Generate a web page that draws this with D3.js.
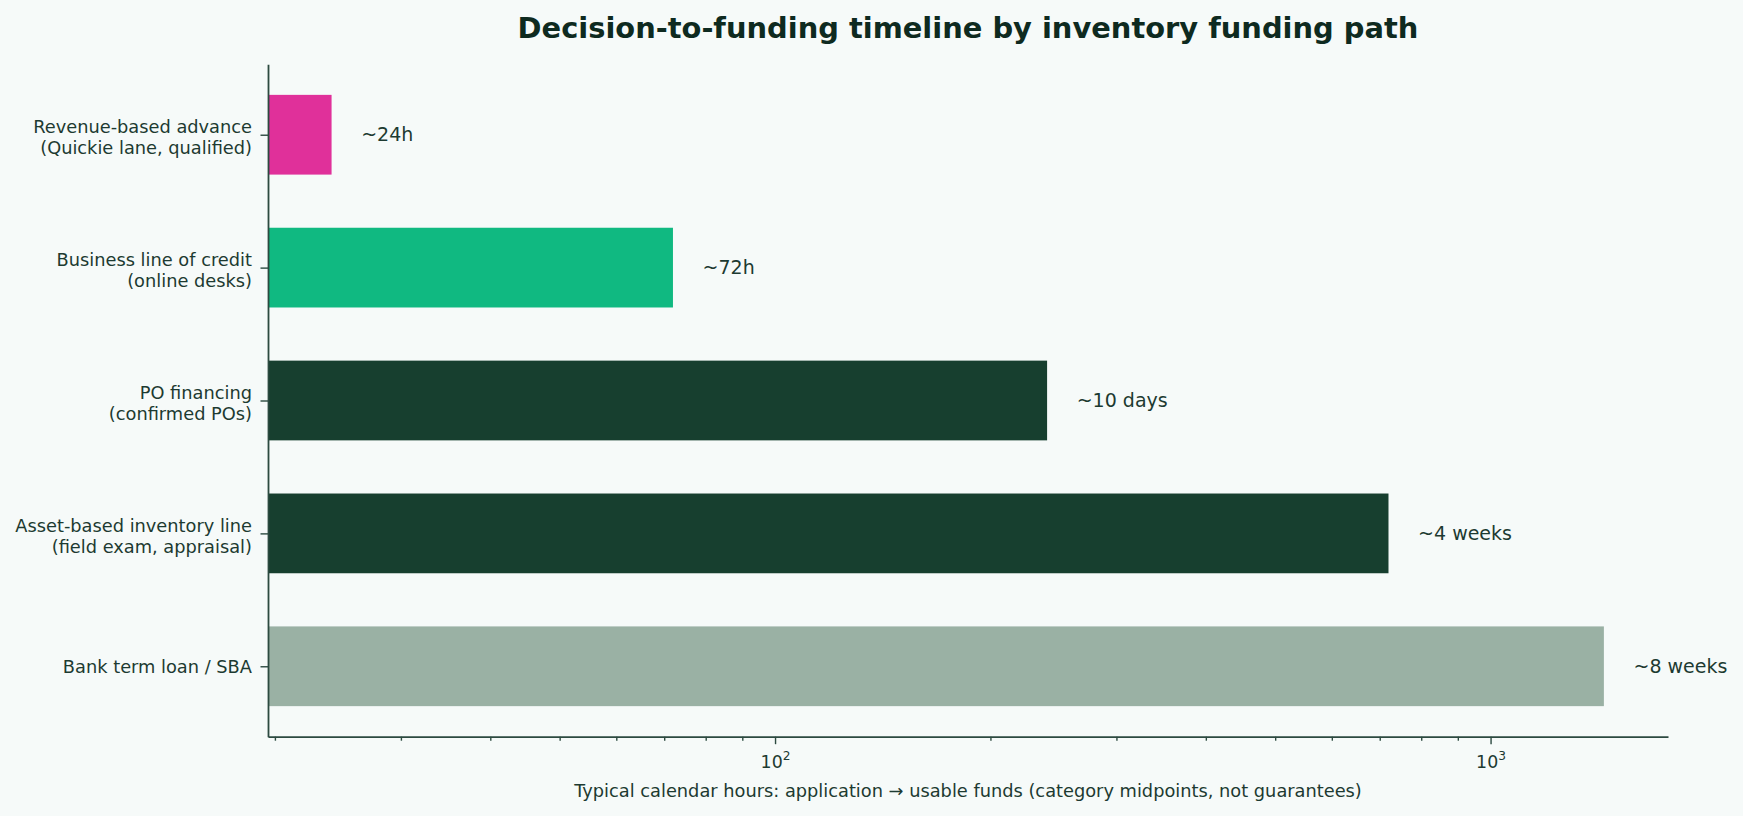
<!DOCTYPE html>
<html>
<head>
<meta charset="utf-8">
<script src="https://cdn.jsdelivr.net/npm/d3@7"></script>
<style>
  body { margin: 0; background: #f6faf9; }
  text { font-family: "DejaVu Sans", sans-serif; }
</style>
</head>
<body>
<script>
// Data
var categories = [
  "Revenue-based advance\n(Quickie lane, qualified)",
  "Business line of credit\n(online desks)",
  "PO financing\n(confirmed POs)",
  "Asset-based inventory line\n(field exam, appraisal)",
  "Bank term loan / SBA"
];
var hours = [24, 72, 240, 720, 1440];
var valueLabels = ["~24h", "~72h", "~10 days", "~4 weeks", "~8 weeks"];
var barColors = ["#e0309a", "#10b981", "#173f2f", "#173f2f", "#9ab1a4"];
var majorTicks = [100, 1000];
var majorTickLabels = ["2", "3"];
var minorTicks = [20, 30, 40, 50, 60, 70, 80, 90, 200, 300, 400, 500, 600, 700, 800, 900];

var width = 1743,
  height = 816;
var margin = {
  top: 64.3,
  bottom: 79.3,
  left: 268,
  right: 75
};

var textColor = "#1d3a31";
var spineColor = "#2c4a40";

var svg = d3.select('body')
  .append('svg')
  .attr('width', width)
  .attr('height', height)
  .style('background', '#f6faf9');

// Scales
var xScale = d3.scaleLog()
  .domain([19.56, 1770])
  .range([margin.left, width - margin.right]);

var yScale = d3.scaleLinear()
  .domain([-0.53, categories.length - 1 + 0.53])
  .range([margin.top, height - margin.bottom]);

var barHalf = 0.3;

// Bars
svg.selectAll('.bar')
  .data(hours)
  .enter()
  .append('rect')
  .attr('class', 'bar')
  .attr('x', xScale.range()[0])
  .attr('y', function(d, i) { return yScale(i - barHalf); })
  .attr('width', function(d) { return xScale(d) - xScale.range()[0]; })
  .attr('height', function(d, i) { return yScale(i + barHalf) - yScale(i - barHalf); })
  .attr('fill', function(d, i) { return barColors[i]; });

// Value labels
svg.selectAll('.vlabel')
  .data(hours)
  .enter()
  .append('text')
  .attr('class', 'vlabel')
  .attr('x', function(d) { return xScale(d * 1.1); })
  .attr('y', function(d, i) { return yScale(i) + 6.6; })
  .style('font-size', '19px')
  .style('fill', textColor)
  .text(function(d, i) { return valueLabels[i]; });

// Minor x ticks
svg.append('g')
  .attr('class', 'minor')
  .attr('transform', `translate(0,${height - margin.bottom})`)
  .call(d3.axisBottom(xScale).tickValues(minorTicks).tickFormat('').tickSize(4).tickSizeOuter(0))
  .call(function(g) { g.select('.domain').remove(); });

// Major x axis
var xAxis = svg.append('g')
  .attr('transform', `translate(0,${height - margin.bottom})`)
  .call(d3.axisBottom(xScale).tickValues(majorTicks).tickFormat('').tickSize(7.5).tickSizeOuter(0));

xAxis.selectAll('.tick text').remove();
xAxis.selectAll('.tick').each(function(d, i) {
  var t = d3.select(this).append('text')
    .attr('y', 31)
    .attr('text-anchor', 'middle')
    .style('font-size', '17.4px')
    .style('fill', textColor);
  t.append('tspan').text('10');
  t.append('tspan').attr('dy', -7.6).style('font-size', '12.2px').text(majorTickLabels[i]);
});

// Left axis
var yAxis = svg.append('g')
  .attr('transform', `translate(${margin.left},0)`)
  .call(d3.axisLeft(yScale).tickValues(d3.range(categories.length)).tickFormat('').tickSize(7.5).tickSizeOuter(0));

yAxis.selectAll('.tick text').remove();
yAxis.selectAll('.tick').each(function(d, i) {
  var lines = categories[i].split('\n');
  var lineH = 20.5;
  var first = 6.5 - (lines.length - 1) / 2 * lineH + (lines.length - 1) * 2;
  var t = d3.select(this).append('text')
    .attr('x', -16)
    .attr('text-anchor', 'end')
    .style('font-size', '17.8px')
    .style('fill', textColor);
  lines.forEach(function(l, j) {
    t.append('tspan')
      .attr('x', -16)
      .attr('y', first + j * lineH)
      .text(l);
  });
});

// Spine styling
svg.selectAll('.domain').attr('stroke', spineColor).attr('stroke-width', 1.8);
svg.selectAll('.tick line').attr('stroke', spineColor).attr('stroke-width', 1.4);

// Title
svg.append('text')
  .attr('x', (margin.left + width - margin.right) / 2)
  .attr('y', 37.8)
  .attr('text-anchor', 'middle')
  .style('font-size', '28.9px')
  .style('font-weight', 'bold')
  .style('fill', '#0e2a20')
  .text('Decision-to-funding timeline by inventory funding path');

// X label
svg.append('text')
  .attr('x', (margin.left + width - margin.right) / 2)
  .attr('y', 797)
  .attr('text-anchor', 'middle')
  .style('font-size', '17.8px')
  .style('fill', textColor)
  .text('Typical calendar hours: application \u2192 usable funds (category midpoints, not guarantees)');
</script>
</body>
</html>
